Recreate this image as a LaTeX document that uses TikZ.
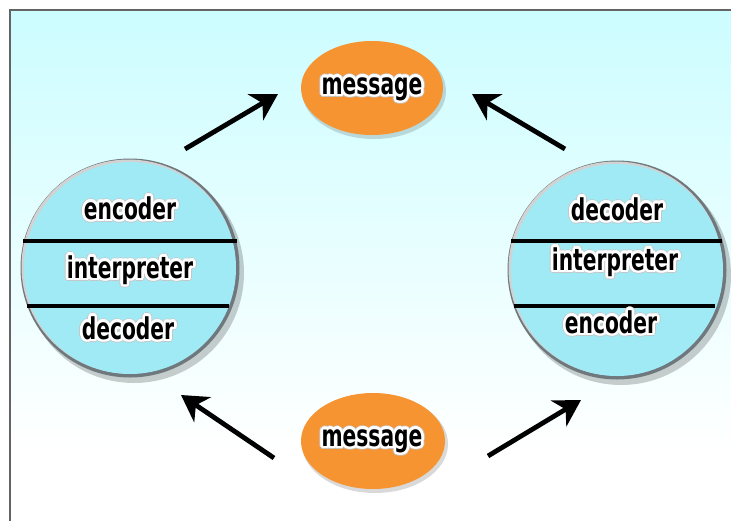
\documentclass[tikz,border=0pt]{standalone}
\usepackage{fontspec}
\usetikzlibrary{arrows.meta,calc}
\newfontfamily\labfont[FakeStretch=0.75]{DejaVu Sans Condensed Bold}
\definecolor{bgtop}{RGB}{204,253,255}
\definecolor{circfill}{RGB}{160,234,246}
\definecolor{rimgray}{RGB}{110,120,125}
\definecolor{msgorange}{RGB}{247,148,50}
\definecolor{framegray}{RGB}{100,100,100}
\tikzset{
  lab/.style={inner sep=0pt, font=\labfont\fontsize{30}{30}\selectfont, text=black},
  arr/.style={line width=4.8pt, -{Stealth[length=26pt,width=30pt,inset=8pt]}, black},
  divline/.style={line width=3.2pt, black},
}
\newcommand\outlab[3]{%
  \foreach \a in {0,30,...,330} \node[lab,text=gray!45] at ($(#2)+(\a:3.6)$) {#3};
  \foreach \a in {0,22.5,...,337.5} \node[lab,text=white] at ($(#2)+(\a:2.6)$) {#3};
  \node[lab] (#1) at (#2) {#3};}
\newcommand\roundbody[3]{% name, center, radius
  \fill[black,opacity=0.20] ($(#2)+(4,5)$) circle (#3+4);
  \fill[rimgray] (#2) circle (#3+3.5);
  \fill[gray!35] ($(#2)+(-1.5,-1.5)$) circle (#3+1);
  \fill[circfill] (#2) circle (#3);
  \coordinate (#1) at (#2);}
\begin{document}
\begin{tikzpicture}[x=1pt,y=-1pt]
\useasboundingbox (0,0) rectangle (731,520);
\fill[white] (0,0) rectangle (731,520);
\shade[top color=bgtop, bottom color=white] (10,10) rectangle (731,450);
\draw[framegray, line width=1.6pt] (9.8,530) -- (9.8,9.8) -- (740,9.8);

% circles
\roundbody{L}{130,268}{106}
\roundbody{R}{617,270}{106}
\draw[divline] (23,241) -- (237,241);
\draw[divline] (27,306) -- (229,306);
\draw[divline] (511,241) -- (722,241);
\draw[divline] (514,306) -- (715,306);

% ellipses
\fill[black,opacity=0.15] (374,91) ellipse [x radius=72, y radius=48];
\fill[msgorange] (372,88) ellipse [x radius=71, y radius=47];
\fill[black,opacity=0.15] (375,444) ellipse [x radius=73, y radius=49];
\fill[msgorange] (373,441) ellipse [x radius=72, y radius=48];

% labels
\outlab{Lenc}{130,208}{encoder}
\outlab{Lint}{130,270}{interpreter}
\outlab{Ldec}{128,328}{decoder}
\outlab{Rdec}{617,209}{decoder}
\outlab{Rint}{615,262}{interpreter}
\outlab{Renc}{611,322}{encoder}
\outlab{Mtop}{372,89}{message}
\outlab{Mbot}{372,441}{message}

% arrows
\coordinate (a1s) at (185,149); \coordinate (a1e) at (278,94);
\coordinate (a2s) at (565,149); \coordinate (a2e) at (472,94);
\coordinate (a3s) at (274,458); \coordinate (a3e) at (181,395);
\coordinate (a4s) at (488,456); \coordinate (a4e) at (581,400);
\draw[arr] (a1s) -- (a1e);
\draw[arr] (a2s) -- (a2e);
\draw[arr] (a3s) -- (a3e);
\draw[arr] (a4s) -- (a4e);
\end{tikzpicture}
\end{document}
